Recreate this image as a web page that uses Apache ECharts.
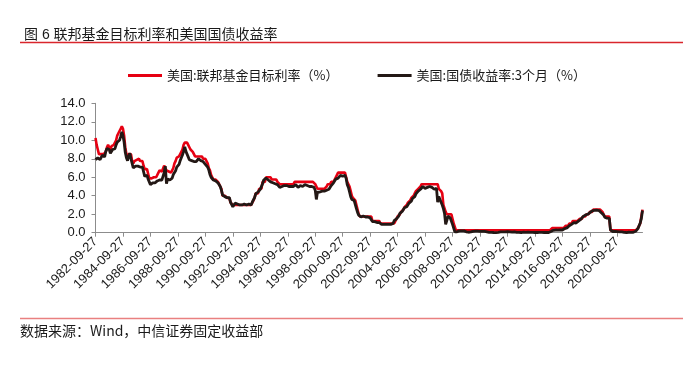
<!DOCTYPE html>
<html><head><meta charset="utf-8">
<script src="https://cdn.jsdelivr.net/npm/echarts@6/dist/echarts.min.js"></script>
<style>html,body{margin:0;padding:0;background:#fff}#c{width:700px;height:383px}</style>
</head><body><div id="c"></div>
<script>
const titleText = '图 6 联邦基金目标利率和美国国债收益率';
const sourceText = '数据来源：Wind，中信证券固定收益部';
const seriesNames = ['美国:联邦基金目标利率（%）', '美国:国债收益率:3个月（%）'];
const startYear = 1982, startMonth = 9, dayLabel = '27';

// 美国:联邦基金目标利率 (monthly, 1982-09 .. 2022-07)
const fedTarget = [
  10.25, 9.5, 9.0, 8.5,
  8.5, 8.5, 8.5, 8.5, 8.625, 8.75, 9.25, 9.5, 9.25, 9.0, 9.375, 9.4,
  9.5, 9.5, 10.0, 10.5, 10.5, 11.0, 11.25, 11.5, 11.25, 10.5, 9.25, 8.5,
  8.25, 8.5, 8.5, 8.5, 7.75, 7.5, 7.75, 7.875, 7.875, 7.875, 8.0, 7.75,
  7.75, 7.75, 7.25, 6.875, 6.875, 6.875, 6.375, 5.875, 5.875, 5.875, 5.875, 6.0,
  6.0, 6.0, 6.0, 6.5, 6.75, 6.75, 6.625, 6.625, 7.25, 7.0, 6.75, 6.75,
  6.625, 6.5, 6.5, 6.75, 7.0, 7.5, 7.75, 8.125, 8.125, 8.25, 8.375, 8.75,
  9.0, 9.5, 9.75, 9.75, 9.75, 9.5, 9.25, 9.0, 9.0, 8.75, 8.5, 8.25,
  8.25, 8.25, 8.25, 8.25, 8.25, 8.25, 8.0, 8.0, 8.0, 7.75, 7.5, 7.0,
  6.75, 6.25, 6.0, 5.75, 5.75, 5.75, 5.75, 5.5, 5.25, 5.0, 4.75, 4.0,
  4.0, 4.0, 4.0, 3.75, 3.75, 3.75, 3.25, 3.25, 3.0, 3.0, 3.0, 3.0,
  3.0, 3.0, 3.0, 3.0, 3.0, 3.0, 3.0, 3.0, 3.0, 3.0, 3.0, 3.0,
  3.0, 3.25, 3.5, 3.75, 4.25, 4.25, 4.25, 4.75, 4.75, 4.75, 5.5, 5.5,
  5.5, 6.0, 6.0, 6.0, 6.0, 6.0, 5.75, 5.75, 5.75, 5.75, 5.75, 5.5,
  5.5, 5.25, 5.25, 5.25, 5.25, 5.25, 5.25, 5.25, 5.25, 5.25, 5.25, 5.25,
  5.25, 5.25, 5.5, 5.5, 5.5, 5.5, 5.5, 5.5, 5.5, 5.5, 5.5, 5.5,
  5.5, 5.5, 5.5, 5.5, 5.5, 5.5, 5.5, 5.5, 5.25, 5.0, 4.75, 4.75,
  4.75, 4.75, 4.75, 4.75, 4.75, 4.75, 5.0, 5.25, 5.25, 5.25, 5.5, 5.5,
  5.5, 5.75, 6.0, 6.0, 6.5, 6.5, 6.5, 6.5, 6.5, 6.5, 6.5, 6.5,
  5.5, 5.5, 5.0, 4.5, 4.0, 3.75, 3.75, 3.5, 3.0, 2.5, 2.0, 1.75,
  1.75, 1.75, 1.75, 1.75, 1.75, 1.75, 1.75, 1.75, 1.75, 1.75, 1.25, 1.25,
  1.25, 1.25, 1.25, 1.25, 1.25, 1.0, 1.0, 1.0, 1.0, 1.0, 1.0, 1.0,
  1.0, 1.0, 1.0, 1.0, 1.0, 1.0, 1.25, 1.5, 1.75, 1.75, 2.0, 2.25,
  2.25, 2.5, 2.75, 2.75, 3.0, 3.25, 3.25, 3.5, 3.75, 3.75, 4.0, 4.25,
  4.5, 4.5, 4.75, 4.75, 5.0, 5.25, 5.25, 5.25, 5.25, 5.25, 5.25, 5.25,
  5.25, 5.25, 5.25, 5.25, 5.25, 5.25, 5.25, 5.25, 4.75, 4.75, 4.5, 4.25,
  3.0, 3.0, 2.25, 2.0, 2.0, 2.0, 2.0, 2.0, 2.0, 1.0, 1.0, 0.25,
  0.25, 0.25, 0.25, 0.25, 0.25, 0.25, 0.25, 0.25, 0.25, 0.25, 0.25, 0.25,
  0.25, 0.25, 0.25, 0.25, 0.25, 0.25, 0.25, 0.25, 0.25, 0.25, 0.25, 0.25,
  0.25, 0.25, 0.25, 0.25, 0.25, 0.25, 0.25, 0.25, 0.25, 0.25, 0.25, 0.25,
  0.25, 0.25, 0.25, 0.25, 0.25, 0.25, 0.25, 0.25, 0.25, 0.25, 0.25, 0.25,
  0.25, 0.25, 0.25, 0.25, 0.25, 0.25, 0.25, 0.25, 0.25, 0.25, 0.25, 0.25,
  0.25, 0.25, 0.25, 0.25, 0.25, 0.25, 0.25, 0.25, 0.25, 0.25, 0.25, 0.25,
  0.25, 0.25, 0.25, 0.25, 0.25, 0.25, 0.25, 0.25, 0.25, 0.25, 0.25, 0.5,
  0.5, 0.5, 0.5, 0.5, 0.5, 0.5, 0.5, 0.5, 0.5, 0.5, 0.5, 0.75,
  0.75, 0.75, 1.0, 1.0, 1.0, 1.25, 1.25, 1.25, 1.25, 1.25, 1.25, 1.5,
  1.5, 1.5, 1.75, 1.75, 1.75, 2.0, 2.0, 2.0, 2.25, 2.25, 2.25, 2.5,
  2.5, 2.5, 2.5, 2.5, 2.5, 2.5, 2.5, 2.25, 2.0, 1.75, 1.75, 1.75,
  1.75, 1.75, 0.25, 0.25, 0.25, 0.25, 0.25, 0.25, 0.25, 0.25, 0.25, 0.25,
  0.25, 0.25, 0.25, 0.25, 0.25, 0.25, 0.25, 0.25, 0.25, 0.25, 0.25, 0.25,
  0.25, 0.25, 0.5, 0.5, 1.0, 1.75, 2.5
];

// 美国:国债收益率:3个月 (monthly, 1982-09 .. 2022-07)
const tbill3m = [
  7.9, 7.7, 8.1, 8.0,
  7.9, 8.1, 8.4, 8.2, 8.2, 8.8, 9.1, 9.3, 9.0, 8.6, 8.8, 9.0,
  8.9, 9.1, 9.5, 9.8, 9.9, 10.0, 10.4, 10.9, 10.5, 9.8, 8.7, 8.1,
  7.8, 8.3, 8.6, 8.0, 7.5, 7.0, 7.1, 7.2, 7.1, 7.2, 7.2, 7.1,
  7.1, 7.1, 6.6, 6.1, 6.2, 6.2, 5.8, 5.6, 5.2, 5.2, 5.4, 5.5,
  5.4, 5.6, 5.6, 5.7, 5.7, 5.7, 5.7, 6.1, 6.5, 7.2, 5.3, 5.8,
  5.8, 5.7, 5.7, 5.9, 6.3, 6.5, 6.7, 7.1, 7.3, 7.4, 7.8, 8.1,
  8.4, 8.8, 9.3, 8.8, 8.5, 8.2, 7.9, 7.9, 7.8, 7.7, 7.7, 7.7,
  7.7, 7.8, 8.0, 7.8, 7.8, 7.8, 7.7, 7.5, 7.4, 7.2, 7.1, 6.8,
  6.3, 6.0, 6.0, 5.7, 5.5, 5.6, 5.6, 5.4, 5.3, 5.0, 4.6, 4.1,
  3.9, 3.9, 4.1, 3.8, 3.8, 3.8, 3.3, 3.2, 2.8, 2.9, 3.2, 3.3,
  3.1, 3.0, 3.0, 2.9, 3.0, 3.1, 3.1, 3.1, 3.0, 3.1, 3.1, 3.1,
  3.0, 3.3, 3.5, 3.8, 4.2, 4.2, 4.4, 4.5, 4.7, 5.0, 5.3, 5.7,
  5.9, 5.9, 5.8, 5.7, 5.7, 5.5, 5.5, 5.4, 5.3, 5.3, 5.4, 5.2,
  5.0, 4.9, 5.0, 5.0, 5.1, 5.1, 5.2, 5.1, 5.2, 5.0, 5.0, 5.0,
  5.1, 5.0, 5.2, 5.2, 5.1, 4.9, 5.1, 5.1, 5.0, 5.0, 5.2, 5.2,
  5.1, 5.1, 5.0, 5.0, 5.0, 5.0, 5.0, 4.9, 4.6, 3.6, 4.4, 4.4,
  4.4, 4.5, 4.5, 4.3, 4.5, 4.6, 4.6, 4.8, 4.7, 4.9, 5.1, 5.2,
  5.4, 5.6, 5.8, 5.7, 5.9, 5.8, 6.2, 6.3, 6.1, 6.2, 6.2, 5.9,
  5.2, 4.9, 4.4, 3.9, 3.6, 3.5, 3.5, 3.4, 2.6, 2.2, 1.9, 1.7,
  1.7, 1.7, 1.8, 1.7, 1.7, 1.7, 1.7, 1.6, 1.6, 1.6, 1.2, 1.2,
  1.2, 1.2, 1.1, 1.1, 1.1, 0.9, 0.9, 1.0, 0.9, 0.9, 0.9, 0.9,
  0.9, 0.9, 0.9, 0.9, 1.0, 1.3, 1.3, 1.5, 1.7, 1.8, 2.1, 2.2,
  2.3, 2.5, 2.7, 2.8, 2.8, 3.0, 3.2, 3.4, 3.4, 3.7, 3.9, 3.9,
  4.2, 4.4, 4.5, 4.6, 4.7, 4.8, 5.0, 5.0, 4.8, 4.9, 4.9, 4.9,
  5.0, 5.0, 4.9, 4.9, 4.7, 4.6, 4.8, 3.3, 3.9, 3.9, 3.3, 3.0,
  2.6, 2.1, 0.9, 1.3, 1.8, 1.9, 1.6, 1.7, 0.9, 0.5, 0.1, 0.03,
  0.1, 0.3, 0.2, 0.2, 0.2, 0.2, 0.2, 0.2, 0.1, 0.07, 0.05, 0.05,
  0.08, 0.11, 0.15, 0.16, 0.16, 0.12, 0.16, 0.16, 0.15, 0.13, 0.14, 0.14,
  0.15, 0.13, 0.10, 0.06, 0.04, 0.04, 0.04, 0.05, 0.02, 0.02, 0.01, 0.01,
  0.03, 0.09, 0.08, 0.08, 0.09, 0.09, 0.10, 0.10, 0.11, 0.10, 0.09, 0.07,
  0.07, 0.10, 0.09, 0.06, 0.04, 0.05, 0.04, 0.04, 0.02, 0.05, 0.07, 0.07,
  0.04, 0.05, 0.05, 0.03, 0.03, 0.04, 0.03, 0.03, 0.02, 0.02, 0.02, 0.03,
  0.03, 0.02, 0.03, 0.02, 0.02, 0.02, 0.03, 0.07, 0.02, 0.02, 0.13, 0.23,
  0.26, 0.31, 0.29, 0.23, 0.27, 0.27, 0.30, 0.30, 0.29, 0.33, 0.45, 0.51,
  0.52, 0.53, 0.75, 0.81, 0.90, 1.00, 1.09, 1.03, 1.05, 1.09, 1.25, 1.34,
  1.43, 1.59, 1.73, 1.79, 1.90, 1.94, 1.99, 2.07, 2.17, 2.29, 2.37, 2.41,
  2.42, 2.44, 2.45, 2.43, 2.40, 2.22, 2.15, 1.99, 1.93, 1.68, 1.57, 1.57,
  1.55, 1.54, 0.30, 0.14, 0.13, 0.16, 0.13, 0.10, 0.11, 0.10, 0.09, 0.09,
  0.08, 0.04, 0.03, 0.02, 0.02, 0.04, 0.05, 0.05, 0.04, 0.05, 0.05, 0.06,
  0.15, 0.33, 0.44, 0.76, 1.05, 1.52, 2.40
];

const categories = fedTarget.map((_, i) => {
  const m = startMonth - 1 + i;
  const y = startYear + Math.floor(m / 12);
  const mm = (m % 12) + 1;
  return y + '-' + String(mm).padStart(2, '0') + '-' + dayLabel;
});

const latin = "'Liberation Sans','Noto Sans CJK SC',sans-serif";
const cjk = "'Noto Sans CJK SC','Liberation Sans',sans-serif";
const axisGray = '#8c8c8c';

const chart = echarts.init(document.getElementById('c'), null, { renderer: 'canvas' });
chart.setOption({
  animation: false,
  backgroundColor: '#fff',
  textStyle: { fontFamily: latin },
  title: {
    text: titleText, left: 19, top: 23,
    textStyle: { fontSize: 14, fontWeight: 'normal', color: '#1a1a1a', fontFamily: latin }
  },
  legend: {
    data: seriesNames, top: 64, left: 123, itemWidth: 34, itemHeight: 3, itemGap: 39,
    icon: 'rect',
    textStyle: { fontSize: 13, color: '#1a1a1a', fontFamily: cjk }
  },
  grid: { left: 95.5, right: 57.5, top: 103.3, bottom: 150.3 },
  xAxis: {
    type: 'category', data: categories, boundaryGap: false,
    axisLine: { lineStyle: { color: axisGray, width: 1 } },
    axisTick: { show: true, interval: 23, length: 4, lineStyle: { color: axisGray } },
    axisLabel: { interval: 23, rotate: 45, fontSize: 13, color: '#1a1a1a', margin: 7, fontFamily: latin },
    splitLine: { show: false }
  },
  yAxis: {
    type: 'value', min: 0, max: 14, interval: 2,
    axisLine: { show: true, lineStyle: { color: axisGray, width: 1 } },
    axisTick: { show: true, length: 4, lineStyle: { color: axisGray } },
    axisLabel: { formatter: v => v.toFixed(1), fontSize: 13, color: '#1a1a1a', margin: 10, fontFamily: latin },
    splitLine: { show: false }
  },
  series: [
    {
      name: seriesNames[0], type: 'line', data: fedTarget, symbol: 'none', showSymbol: false,
      lineStyle: { color: '#e60012', width: 2.6 }, itemStyle: { color: '#e60012' }, z: 2
    },
    {
      name: seriesNames[1], type: 'line', data: tbill3m, symbol: 'none', showSymbol: false,
      lineStyle: { color: '#231815', width: 2.8 }, itemStyle: { color: '#231815' }, z: 3
    }
  ],
  graphic: [
    { type: 'line', shape: { x1: 20, y1: 42.5, x2: 683, y2: 42.5 }, style: { stroke: '#d9262c', lineWidth: 1.5 } },
    { type: 'line', shape: { x1: 20, y1: 318.5, x2: 683, y2: 318.5 }, style: { stroke: '#e98080', lineWidth: 1.5 } },
    { type: 'text', left: 20, top: 324, style: { text: sourceText, fontSize: 14, fill: '#1a1a1a', fontFamily: cjk } }
  ]
});
</script></body></html>
